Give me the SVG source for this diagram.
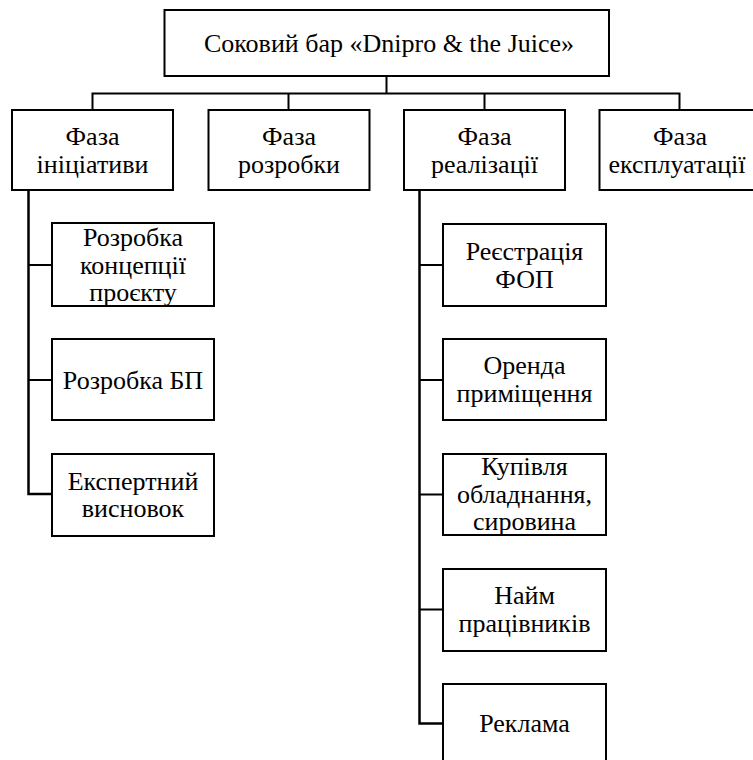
<svg xmlns="http://www.w3.org/2000/svg" width="753" height="760" viewBox="0 0 753 760">
  <style>
    .box { fill: #ffffff; stroke: #000000; stroke-width: 2; }
    .lbl { font-family: 'Liberation Serif', 'DejaVu Serif', serif; font-size: 26px; fill: #000000; text-anchor: middle; }
    .wire { fill: none; stroke: #000000; stroke-width: 2; }
  </style>
  <rect width="753" height="760" fill="#ffffff"/>

  <!-- connectors -->
  <g id="connectors" class="wire">
    <path d="M386.5 76 V93.5"/>
    <path d="M92.5 110 V93.5 H679.5 V110"/>
    <path d="M288.5 93.5 V110"/>
    <path d="M484.5 93.5 V110"/>
    <!-- initiation phase branch -->
    <path d="M28.5 190 V494 H52" stroke-width="2.5"/>
    <path d="M28.5 265 H52"/>
    <path d="M28.5 380 H52"/>
    <!-- implementation phase branch -->
    <path d="M419.5 190 V723.5 H443" stroke-width="2.5"/>
    <path d="M419.5 265 H443"/>
    <path d="M419.5 380 H443"/>
    <path d="M419.5 494.5 H443"/>
    <path d="M419.5 609.5 H443"/>
  </g>

  <!-- root -->
  <g id="root">
    <rect class="box" x="164.5" y="10" width="444.5" height="66"/>
    <text class="lbl" x="389" y="51.5">Соковий бар «Dnipro &amp; the Juice»</text>
  </g>

  <!-- phases -->
  <g id="phase-initiation">
    <rect class="box" x="12" y="110" width="161" height="80"/>
    <text class="lbl" x="92.5" y="145">Фаза</text>
    <text class="lbl" x="92.5" y="172.5">ініціативи</text>
  </g>
  <g id="phase-development">
    <rect class="box" x="208.5" y="110" width="161" height="80"/>
    <text class="lbl" x="289" y="145">Фаза</text>
    <text class="lbl" x="289" y="172.5">розробки</text>
  </g>
  <g id="phase-implementation">
    <rect class="box" x="404" y="110" width="161" height="80"/>
    <text class="lbl" x="484.5" y="145">Фаза</text>
    <text class="lbl" x="484.5" y="172.5">реалізації</text>
  </g>
  <g id="phase-operation">
    <rect class="box" x="599.5" y="110" width="161" height="80"/>
    <text class="lbl" x="680" y="145">Фаза</text>
    <text class="lbl" x="677" y="172.5">експлуатації</text>
  </g>

  <!-- initiation tasks -->
  <g id="task-concept">
    <rect class="box" x="52" y="223" width="162" height="83"/>
    <text class="lbl" x="133" y="246">Розробка</text>
    <text class="lbl" x="133" y="273.5">концепції</text>
    <text class="lbl" x="133" y="301">проєкту</text>
  </g>
  <g id="task-bp">
    <rect class="box" x="52" y="339" width="162" height="81"/>
    <text class="lbl" x="133" y="389">Розробка БП</text>
  </g>
  <g id="task-expert">
    <rect class="box" x="52" y="454" width="162" height="82"/>
    <text class="lbl" x="133" y="489.5">Експертний</text>
    <text class="lbl" x="133" y="517">висновок</text>
  </g>

  <!-- implementation tasks -->
  <g id="task-registration">
    <rect class="box" x="443" y="224" width="163" height="82"/>
    <text class="lbl" x="524.5" y="259.5">Реєстрація</text>
    <text class="lbl" x="524.5" y="287.5">ФОП</text>
  </g>
  <g id="task-rent">
    <rect class="box" x="443" y="339" width="163" height="81"/>
    <text class="lbl" x="524.5" y="374">Оренда</text>
    <text class="lbl" x="524.5" y="402">приміщення</text>
  </g>
  <g id="task-equipment">
    <rect class="box" x="443" y="454" width="163" height="81"/>
    <text class="lbl" x="524.5" y="475">Купівля</text>
    <text class="lbl" x="524.5" y="502.5">обладнання,</text>
    <text class="lbl" x="524.5" y="530">сировина</text>
  </g>
  <g id="task-staff">
    <rect class="box" x="443" y="569" width="163" height="82"/>
    <text class="lbl" x="524.5" y="603.5">Найм</text>
    <text class="lbl" x="524.5" y="631.5">працівників</text>
  </g>
  <g id="task-ads">
    <rect class="box" x="443" y="684" width="163" height="82"/>
    <text class="lbl" x="524.5" y="732">Реклама</text>
  </g>
</svg>
